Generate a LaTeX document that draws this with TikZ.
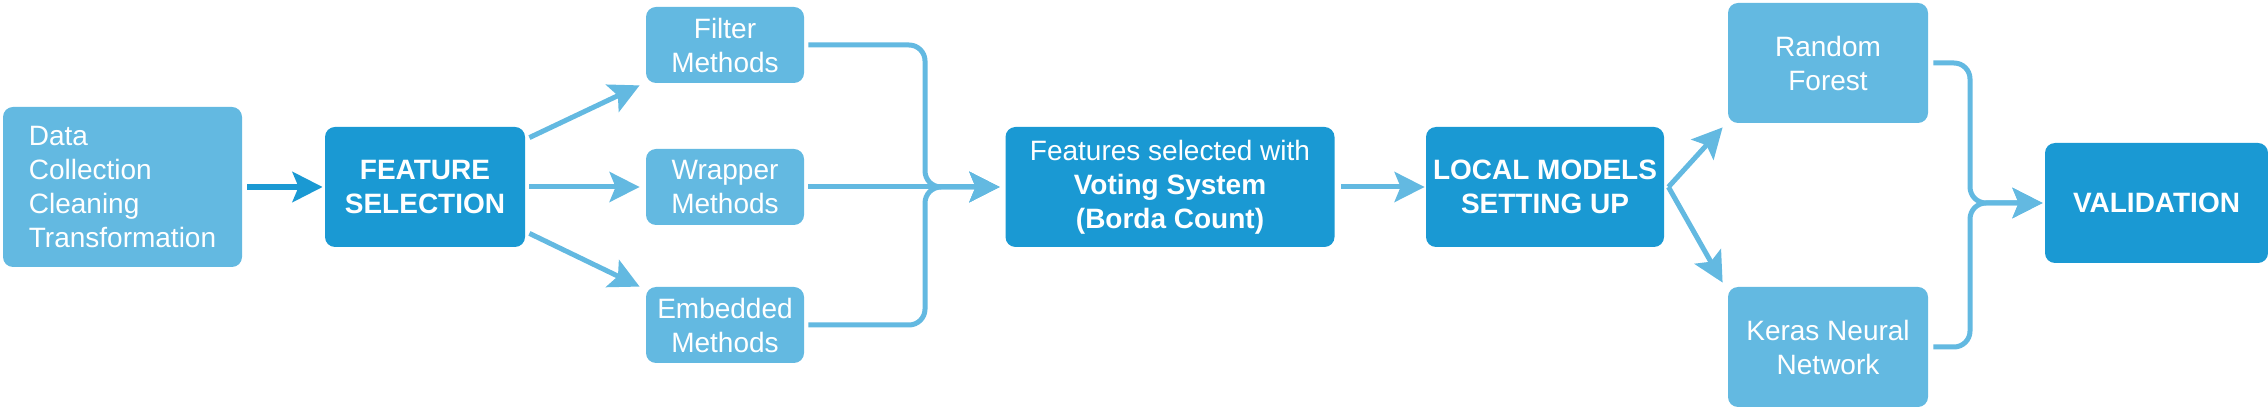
\documentclass[tikz,border=0pt]{standalone}
\usepackage{fontspec}
\setmainfont{Liberation Sans}
\usetikzlibrary{arrows.meta,calc}
\definecolor{lightblue}{RGB}{99,185,225}
\definecolor{darkblue}{RGB}{26,153,211}
\tikzset{
	box/.style={rounded corners=5pt, text=white, align=center, inner sep=0pt, font=\fontsize{14}{17}\selectfont},
	lightbox/.style={box, fill=lightblue},
	darkbox/.style={box, fill=darkblue, font=\fontsize{14}{17}\selectfont\bfseries},
	flow/.style={draw=lightblue, line width=2.5pt, -{Stealth[length=15pt,width=15pt,inset=3pt]}}
}
\begin{document}
\begin{tikzpicture}[x=0.5pt,y=-0.5pt]
			\useasboundingbox (0,0) rectangle (2268,410);
			%%%%%%%%%%%%%%%%%%%%%%%%%%%%%%%%
			\node[lightbox, minimum width=119.5pt, minimum height=80pt, align=left] (data) at (122.5,187) {Data\\Collection\\Cleaning\\Transformation};
			\node[darkbox, minimum width=100pt, minimum height=60pt] (fs) at (425,187) {FEATURE\\SELECTION};
			\node[lightbox, minimum width=79pt, minimum height=38pt] (filt) at (725,45) {Filter\\Methods};
			\node[lightbox, minimum width=79pt, minimum height=38pt] (wrap) at (725,187) {Wrapper\\Methods};
			\node[lightbox, minimum width=79pt, minimum height=38pt] (emb) at (725,325) {Embedded\\Methods};
			\node[darkbox, minimum width=164.5pt, minimum height=60pt] (feat) at (1170,187) {{\mdseries Features selected with}\\Voting System\\(Borda Count)};
			\node[darkbox, minimum width=119pt, minimum height=60pt] (loc) at (1545,187) {LOCAL MODELS\\SETTING UP};
			\node[lightbox, minimum width=100pt, minimum height=60pt] (rf) at (1828,63) {Random\\Forest};
			\node[lightbox, minimum width=100pt, minimum height=60pt] (ker) at (1828,347) {Keras Neural\\Network};
			\node[darkbox, minimum width=111.5pt, minimum height=60pt] (val) at (2156.5,203) {VALIDATION};
			%%%%%%%%%%%%%%%%%%%%%%%%%%%%%%%%
			\coordinate (jf) at (925,187);
			\coordinate (jv) at (1970,203);
			%%%%%%%%%%%%%%%%%%%%%%%%%%%%%%%%
			\draw[flow, draw=darkblue, line width=3pt, shorten <=2.5pt, shorten >=1pt] (data.east) -- (fs.west);
			\draw[flow] ($(fs.north east)+(4,11)$) -- ($(filt.south west)+(-6,2)$);
			\draw[flow, shorten <=2pt, shorten >=3pt] (fs.east) -- (wrap.west);
			\draw[flow] ($(fs.south east)+(4,-14)$) -- ($(emb.north west)+(-6,0)$);
			%%%%%%%%%%%%%%%%%%%%%%%%%%%%%
			\draw[flow, rounded corners=8pt, shorten <=2pt, shorten >=2.75pt] (filt.east) -| (jf) -- (feat.west);
			\draw[flow, shorten <=2pt, shorten >=2.75pt] (wrap.east) -- (feat.west);
			\draw[flow, rounded corners=8pt, shorten <=2pt, shorten >=2.75pt] (emb.east) -| (jf) -- (feat.west);
			\draw[flow, shorten <=3pt, shorten >=0.5pt] (feat.east) -- (loc.west);
			%%%%%%%%%%%%%%%%%%%%%%%%%%%%%
			\draw[flow] ($(loc.east)+(4,0)$) -- ($(rf.south west)+(-5,4)$);
			\draw[flow] ($(loc.east)+(4,0)$) -- ($(ker.north west)+(-5,-4)$);
			\draw[flow, rounded corners=8pt, shorten <=2.5pt, shorten >=1pt] (rf.east) -| (jv) -- (val.west);
			\draw[flow, rounded corners=8pt, shorten <=2.5pt, shorten >=1pt] (ker.east) -| (jv) -- (val.west);
		\end{tikzpicture}
\end{document}
